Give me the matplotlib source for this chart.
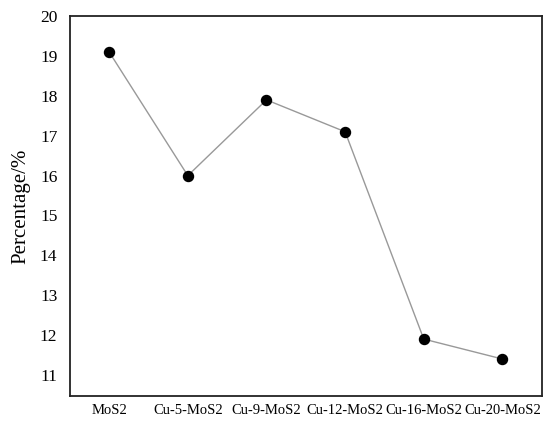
import matplotlib.pyplot as plt

samples = ['MoS2', 'Cu-5-MoS2', 'Cu-9-MoS2', 'Cu-12-MoS2', 'Cu-16-MoS2', 'Cu-20-MoS2']
percentage = [19.1, 16.0, 17.9, 17.1, 11.9, 11.4]
yticks = [11, 12, 13, 14, 15, 16, 17, 18, 19, 20]

plt.rcParams['font.family'] = ['Liberation Serif', 'DejaVu Serif']

fig = plt.figure(figsize=(5.5, 4.25), dpi=100)
ax = fig.add_axes([0.127, 0.068, 0.858, 0.894])

x = range(len(samples))
ax.plot(x, percentage, color='#999999', linewidth=1, zorder=1)
ax.scatter(x, percentage, s=52, color='black', zorder=2)

ax.set_xlim(-0.5, 5.5)
ax.set_ylim(10.47, 20)
ax.set_xticks(list(x))
ax.set_xticklabels(samples, fontsize=10.5)
ax.set_yticks(yticks)
ax.set_yticklabels([str(t) for t in yticks], fontsize=12.5)
ax.tick_params(axis='x', length=0, pad=6)
ax.tick_params(axis='y', length=0, pad=9)
ax.set_ylabel('Percentage/%', fontsize=15, labelpad=7)
for s in ax.spines.values():
    s.set_linewidth(1.3)
    s.set_color('#222222')

fig.savefig('out.png', dpi=100)
